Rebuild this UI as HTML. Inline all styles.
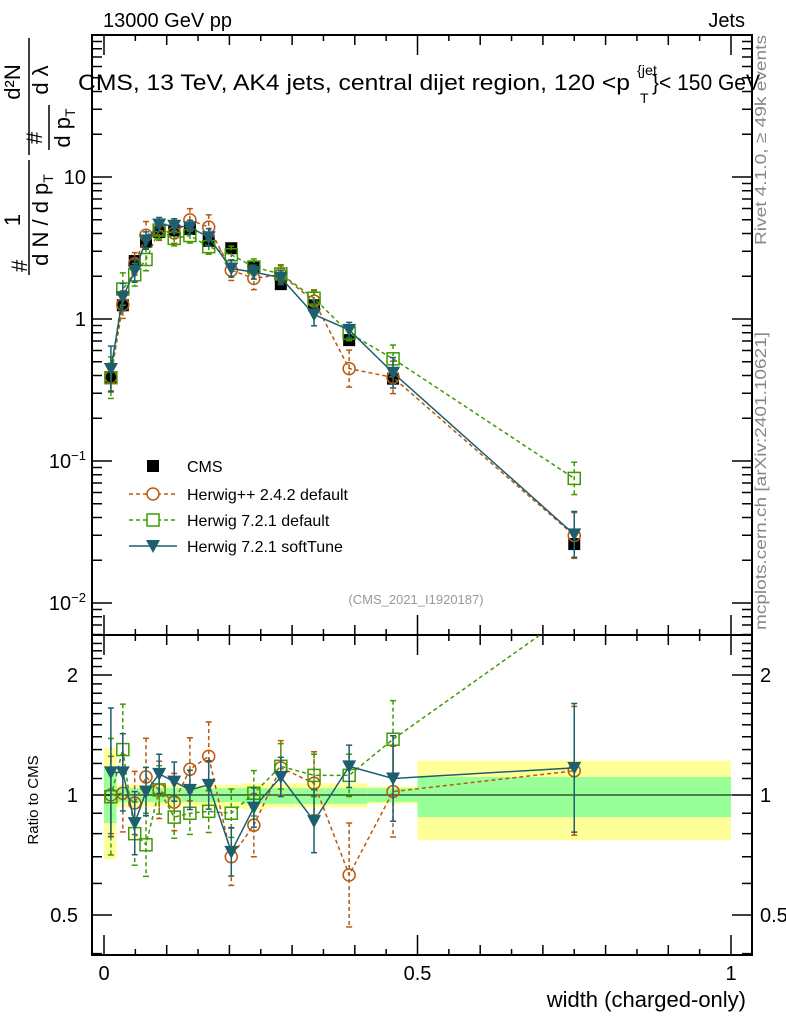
<!DOCTYPE html>
<html><head><meta charset="utf-8"><style>
body{margin:0;background:#fff;}
svg{display:block;font-family:"Liberation Sans",sans-serif;}
</style></head><body>
<svg id="c" width="786" height="1024" viewBox="0 0 786 1024">
<g id="bands"></g>
<g id="frames"></g>
<g id="marks"></g>
<g id="txt"></g>
</svg>
<script>
const xs=[0.011,0.030,0.049,0.067,0.088,0.112,0.137,0.167,0.203,0.239,0.282,0.335,0.391,0.461,0.75];
const binLo=[0,0.02,0.04,0.06,0.08,0.10,0.125,0.15,0.185,0.22,0.26,0.305,0.365,0.42,0.5];
const binHi=[0.02,0.04,0.06,0.08,0.10,0.125,0.15,0.185,0.22,0.26,0.305,0.365,0.42,0.5,1.0];
const cms=[0.39,1.25,2.56,3.5,4.1,4.2,4.3,3.55,3.15,2.3,1.76,1.25,0.71,0.38,0.026];
const yelLo=[0.69,0.93,0.93,0.93,0.94,0.94,0.94,0.93,0.93,0.92,0.93,0.93,0.93,0.95,0.77];
const yelHi=[1.31,1.06,1.06,1.06,1.06,1.06,1.06,1.06,1.06,1.07,1.07,1.07,1.07,1.05,1.22];
const grnLo=[0.85,0.96,0.96,0.96,0.96,0.96,0.96,0.96,0.96,0.95,0.95,0.95,0.95,0.96,0.88];
const grnHi=[1.17,1.04,1.04,1.04,1.04,1.04,1.04,1.04,1.04,1.04,1.04,1.04,1.04,1.04,1.11];
const hppR=[1.0,1.01,0.955,1.11,1.03,0.96,1.16,1.25,0.70,0.84,1.17,1.07,0.63,1.02,1.15];
const hppE=[0.25,0.25,0.2,0.25,0.18,0.18,0.2,0.22,0.18,0.2,0.17,0.2,0.35,0.3,0.45];
const h7R=[0.99,1.30,0.80,0.75,1.03,0.88,0.90,0.91,0.90,1.01,1.18,1.12,1.12,1.38,2.9];
const h7E=[0.4,0.3,0.2,0.2,0.15,0.13,0.13,0.13,0.15,0.14,0.14,0.13,0.13,0.25,0.3];
const stR=[1.14,1.14,0.85,1.02,1.13,1.08,1.03,1.06,0.72,0.93,1.11,0.86,1.18,1.10,1.17];
const stE=[0.45,0.25,0.2,0.15,0.12,0.12,0.12,0.15,0.15,0.12,0.12,0.2,0.13,0.28,0.45];
const xTicks=[0,0.5,1];const xTickLbl=["0","0.5","1"];
const rTicks=[0.5,1,2];const rTickLbl=["0.5","1","2"];

const NS="http://www.w3.org/2000/svg";
const L=92,R=752,T=35,MB=635,RB=955;
const X=v=>104+v*627;
const Y=v=>319-142*Math.log10(v);
const YR=v=>795-120*Math.log2(v);
function el(p,t,a,txt){const e=document.createElementNS(NS,t);for(const k in a)e.setAttribute(k,a[k]);if(txt!==undefined)e.textContent=txt;document.getElementById(p).appendChild(e);return e;}
for(let i=0;i<binLo.length;i++){
 let e=el('bands','rect',{x:X(binLo[i]),y:YR(yelHi[i]),width:X(binHi[i])-X(binLo[i]),height:YR(yelLo[i])-YR(yelHi[i]),fill:'#ffff99'});
 
 e=el('bands','rect',{x:X(binLo[i]),y:YR(grnHi[i]),width:X(binHi[i])-X(binLo[i]),height:YR(grnLo[i])-YR(grnHi[i]),fill:'#99ff99'});
 
}
el('frames','rect',{x:L,y:T,width:R-L,height:MB-T,fill:'none',stroke:'#000','stroke-width':2});
el('frames','rect',{x:L,y:MB,width:R-L,height:RB-MB,fill:'none',stroke:'#000','stroke-width':2});
el('frames','line',{x1:L,x2:R,y1:YR(1),y2:YR(1),stroke:'#000','stroke-width':1});
for(let d=-3;d<=1;d++)for(let m=1;m<10;m++){const v=m*Math.pow(10,d);const y=Y(v);if(y<T||y>MB)continue;const len=m==1?20:10;
 el('frames','line',{x1:L,x2:L+len,y1:y,y2:y,stroke:'#000','stroke-width':1.5});el('frames','line',{x1:R,x2:R-len,y1:y,y2:y,stroke:'#000','stroke-width':1.5});}
for(let v=0.4;v<=2.5;v+=0.1){const y=YR(v);if(y<MB||y>RB)continue;const maj=Math.abs(v-0.5)<1e-6||Math.abs(v-1)<1e-6||Math.abs(v-2)<1e-6;const len=maj?20:10;
 el('frames','line',{x1:L,x2:L+len,y1:y,y2:y,stroke:'#000','stroke-width':1.5});el('frames','line',{x1:R,x2:R-len,y1:y,y2:y,stroke:'#000','stroke-width':1.5});}
for(let v=0;v<=1.001;v+=0.05){const x=X(v);const maj=Math.round(v*20)%10==0;const mid=Math.round(v*20)%2==0;const len=maj?20:(mid?10:6);
 [[T,1],[MB,-1],[MB,1],[RB,-1]].forEach(([y0,s])=>el('frames','line',{x1:x,x2:x,y1:y0,y2:y0+s*len,stroke:'#000','stroke-width':1.5}));}
function series(vals,errs,col,dash,marker,name){
 const pts=xs.map((x,i)=>[X(x),Y(cms[i]*vals[i])]);
 const rp=xs.map((x,i)=>[X(x),YR(vals[i])]);
 [[pts,Y],[rp,YR]].forEach(([p,F],k)=>{
  const pl=el('marks','polyline',{points:p.map(q=>q.join(',')).join(' '),fill:'none',stroke:col,'stroke-width':1.5,'stroke-dasharray':dash,'clip-path':k?'url(#clipR)':'url(#clipM)'});
  
  xs.forEach((x,i)=>{const base=k?vals[i]:cms[i]*vals[i];const lo=base/(1+errs[i]),hi=base*(1+errs[i]);
   const y1=F(hi),y2=F(lo);const cx=X(x);
   if(k&&F(base)<MB)return;
   const e=el('marks','line',{x1:cx,x2:cx,y1:Math.max(y1,k?MB:T),y2:Math.min(y2,k?RB:MB),stroke:col,'stroke-width':1.5,'stroke-dasharray':dash});
   
   [y1,y2].forEach(yy=>{if(yy>(k?MB:T)&&yy<(k?RB:MB))el('marks','line',{x1:cx-3,x2:cx+3,y1:yy,y2:yy,stroke:col,'stroke-width':1.5});});
   const cy=F(base);
   let m;
   if(marker=='o')m=el('marks','circle',{cx:cx,cy:cy,r:6,fill:'none',stroke:col,'stroke-width':1.5});
   else if(marker=='s')m=el('marks','rect',{x:cx-6,y:cy-6,width:12,height:12,fill:'none',stroke:col,'stroke-width':1.5});
   else m=el('marks','polygon',{points:`${cx-7},${cy-6} ${cx+7},${cy-6} ${cx},${cy+7}`,fill:col});
   
  });
 });
}
const defs=document.createElementNS(NS,'defs');defs.innerHTML=`<clipPath id="clipM"><rect x="${L}" y="${T}" width="${R-L}" height="${MB-T}"/></clipPath><clipPath id="clipR"><rect x="${L}" y="${MB}" width="${R-L}" height="${RB-MB}"/></clipPath>`;
document.getElementById('c').prepend(defs);
xs.forEach((x,i)=>{const e=el('marks','rect',{x:X(x)-6,y:Y(cms[i])-6,width:12,height:12,fill:'#000'});
 });
series(hppR,hppE,'#b8590f','4,3','o','herwigpp-242');
series(h7R,h7E,'#3f9a00','4,3','s','herwig-721-default');
series(stR,stE,'#1d5f6e','','t','herwig-721-softtune');
xTicks.forEach((v,i)=>{const t=el('txt','text',{x:X(v),y:980,'font-size':20,'text-anchor':'middle'},xTickLbl[i]);});
rTicks.forEach((v,i)=>{let t=el('txt','text',{x:78,y:YR(v)+7,'font-size':20,'text-anchor':'end'},rTickLbl[i]);
 t=el('txt','text',{x:760,y:YR(v)+7,'font-size':20,'text-anchor':'start'},rTickLbl[i]);});
</script>
<div style="position:absolute;left:0;top:0;width:786px;height:1024px;pointer-events:none">
<svg width="786" height="1024" style="position:absolute;left:0;top:0;font-family:'Liberation Sans',sans-serif">
<text x="103" y="27" font-size="20">13000 GeV pp</text>
<text x="745" y="27" font-size="20" text-anchor="end">Jets</text>
<g font-size="22">
<text x="78" y="90" textLength="552" lengthAdjust="spacingAndGlyphs">CMS, 13 TeV, AK4 jets, central dijet region, 120 &lt;p</text>
<text x="637" y="75" font-size="14" textLength="20" lengthAdjust="spacingAndGlyphs">{jet</text>
<text x="640" y="103" font-size="14">T</text>
<text x="652" y="90" textLength="108" lengthAdjust="spacingAndGlyphs">}&lt; 150 GeV</text>
</g>
<text x="86" y="184" font-size="20" text-anchor="end">10</text>
<text x="86" y="326" font-size="20" text-anchor="end">1</text>
<text x="86" y="468" font-size="20" text-anchor="end">10<tspan font-size="13" dy="-8">−1</tspan></text>
<text x="86" y="610" font-size="20" text-anchor="end">10<tspan font-size="13" dy="-8">−2</tspan></text>
<g font-size="22">
<text transform="translate(27,272) rotate(-90)">#</text>
<text transform="translate(20,220) rotate(-90)" text-anchor="middle">1</text>
<line x1="29" x2="29" y1="160" y2="275" stroke="#000" stroke-width="1.5"/>
<text transform="translate(48,220) rotate(-90)" text-anchor="middle">d N / d p<tspan font-size="14" dy="5">T</tspan></text>
<text transform="translate(42,138) rotate(-90)" text-anchor="middle">#</text>
<line x1="49" x2="49" y1="105" y2="150" stroke="#000" stroke-width="1.5"/>
<text transform="translate(70,128) rotate(-90)" text-anchor="middle">d p<tspan font-size="14" dy="5">T</tspan></text>
<text transform="translate(20,82) rotate(-90)" text-anchor="middle">d²N</text>
<line x1="29" x2="29" y1="38" y2="155" stroke="#000" stroke-width="1.5"/>
<text transform="translate(48,80) rotate(-90)" text-anchor="middle">d λ</text>
</g>
<text transform="translate(38,800) rotate(-90)" font-size="15" text-anchor="middle">Ratio to CMS</text>
<text x="746" y="1007" font-size="22" text-anchor="end">width (charged-only)</text>
<text transform="translate(766,245) rotate(-90)" font-size="16" fill="#888" textLength="210" lengthAdjust="spacingAndGlyphs">Rivet 4.1.0, ≥ 49k events</text>
<text transform="translate(766,630) rotate(-90)" font-size="16" fill="#888" textLength="298" lengthAdjust="spacingAndGlyphs">mcplots.cern.ch [arXiv:2401.10621]</text>
<text x="416" y="604" font-size="13" fill="#999" text-anchor="middle">(CMS_2021_I1920187)</text>
<g font-size="16">
<rect x="147" y="460" width="12" height="12" fill="#000"/>
<text x="187" y="472">CMS</text>
<line x1="129" x2="177" y1="494" y2="494" stroke="#b8590f" stroke-width="1.5" stroke-dasharray="4,3"/><circle cx="153" cy="494" r="6" fill="#fff" stroke="#b8590f" stroke-width="1.5"/>
<text x="187" y="500">Herwig++ 2.4.2 default</text>
<line x1="129" x2="177" y1="520" y2="520" stroke="#3f9a00" stroke-width="1.5" stroke-dasharray="4,3"/><rect x="147" y="514" width="12" height="12" fill="#fff" stroke="#3f9a00" stroke-width="1.5"/>
<text x="187" y="526">Herwig 7.2.1 default</text>
<line x1="129" x2="177" y1="546" y2="546" stroke="#1d5f6e" stroke-width="1.5"/><polygon points="146,540 160,540 153,553" fill="#1d5f6e"/>
<text x="187" y="552">Herwig 7.2.1 softTune</text>
</g>
</svg></div>
</body></html>
